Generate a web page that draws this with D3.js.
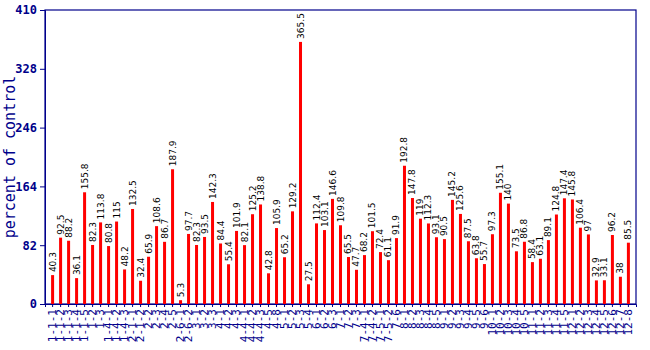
<!DOCTYPE html>
<html><head><meta charset="utf-8">
<script src="https://cdn.jsdelivr.net/npm/d3@7"></script>
<style>body{margin:0;background:#fff;}</style>
</head><body><svg id="c" width="650" height="350"></svg>
<script>
const categories = ["1-1-1","1-1-2","1-1-3","1-1-4","1-1-5","1-2","1-3","1-4-1","1-4-2","1-4-3","2-1-1","2-1-2","2-2","2-3","2-4","2-5","2-6-1","2-6-2","3-1","3-2","3-3","4-1","4-2","4-3","4-4-1","4-4-2","4-4-3","4-5","4-8","5-1","5-2","5-3","5-4","6-1","6-2","6-3","7-1","7-2","7-3","7-4-1","7-4-2","7-5-1","7-5-2","7-6","8-1","8-2","8-3","8-4","8-5","9-1","9-2","9-3","9-4","9-5","9-6","10-1","10-2","10-3","10-4","10-5","11-1","11-2","11-3","11-4","11-5","12-1","12-2","12-3","12-4","12-5","12-6","12-7","12-8"];
const values = [40.3,92.5,88.2,36.1,155.8,82.3,113.8,80.8,115,48.2,132.5,32.4,65.9,108.6,86.7,187.9,5.3,97.7,82.3,93.5,142.3,84.4,55.4,101.9,82.1,125.2,138.8,42.8,105.9,65.2,129.2,365.5,27.5,112.4,103.1,146.6,109.8,65.5,47.7,68.2,101.5,72.4,61.1,91.9,192.8,147.8,119,112.3,93.1,90.5,145.2,125.6,87.5,63.8,55.7,97.3,155.1,140,73.5,86.8,58.4,63.1,89.1,124.8,147.4,145.8,106.4,97,32.9,33.1,96.2,38,85.5];
const yTicks = [0,82,164,246,328,410];
const yTitle = "percent of control";

const navy = "#00008b";
const svg = d3.select("#c");
const L = 45, R = 636, T = 10, B = 304;
const x = d3.scaleBand().domain(categories).range([L, R]).paddingOuter(0.45).paddingInner(0);
const y = d3.scaleLinear().domain([0, 410]).range([B, T]);

// frame
svg.append("rect").attr("x", L).attr("y", T).attr("width", R - L).attr("height", B - T)
  .attr("fill", "none").attr("stroke", navy).attr("stroke-width", 1.2);

// y axis
const ya = svg.append("g").attr("transform", `translate(${L},0)`)
  .call(d3.axisLeft(y).tickValues(yTicks).tickSize(5).tickPadding(3).tickFormat(d3.format("d")));
ya.select(".domain").attr("stroke", navy);
ya.selectAll("line").attr("stroke", navy);
ya.selectAll("text").attr("fill", navy).attr("font-family", "DejaVu Sans Mono, monospace")
  .attr("font-size", 12).attr("font-weight", "bold");

// x axis
const xa = svg.append("g").attr("transform", `translate(0,${B})`)
  .call(d3.axisBottom(x).tickSize(3));
xa.select(".domain").attr("stroke", navy);
xa.selectAll("line").attr("stroke", navy);
xa.selectAll("text").attr("fill", navy).attr("font-family", "DejaVu Sans Mono, monospace")
  .attr("font-size", 11)
  .attr("transform", "rotate(-90)").attr("text-anchor", "end")
  .attr("x", -5).attr("y", 0).attr("dy", "0.35em");

// bars
const bw = 3;
svg.append("g").selectAll("rect").data(values).join("rect")
  .attr("x", (d, i) => x(categories[i]) + x.bandwidth() / 2 - bw / 2)
  .attr("y", d => y(d)).attr("width", bw).attr("height", d => B - y(d))
  .attr("fill", "#ff0000");

// value labels
svg.append("g").selectAll("text").data(values).join("text")
  .attr("transform", (d, i) => `translate(${x(categories[i]) + x.bandwidth() / 2 + 3},${y(d) - 3}) rotate(-90)`)
  .attr("font-family", "DejaVu Sans, sans-serif").attr("font-size", 9).attr("fill", "#000")
  .text(d => d);

// y title
svg.append("text").attr("transform", "translate(15,157) rotate(-90)")
  .attr("text-anchor", "middle").attr("fill", navy)
  .attr("font-family", "DejaVu Sans Mono, monospace").attr("font-size", 15)
  .text(yTitle);
</script></body></html>
